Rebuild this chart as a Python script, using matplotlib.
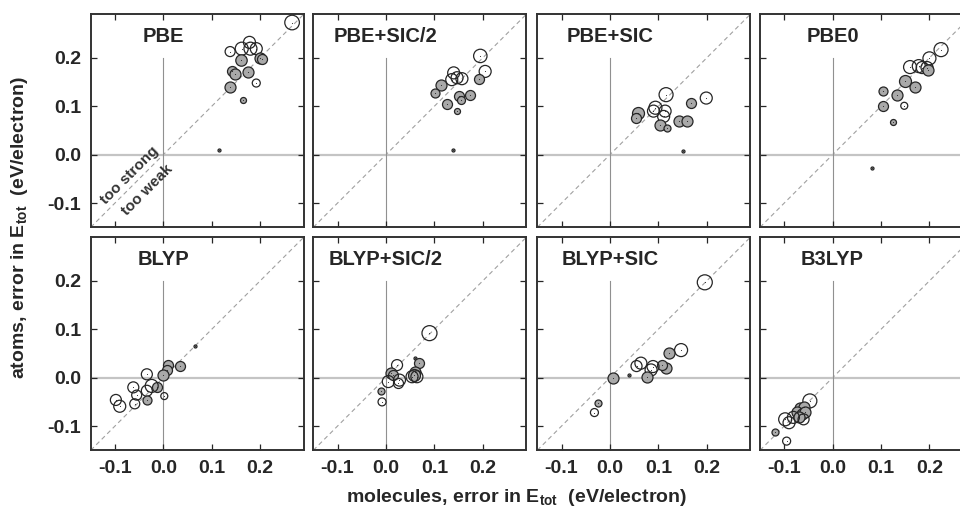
import matplotlib
matplotlib.use("Agg")
import matplotlib.pyplot as plt

plt.rcParams['font.family'] = ['Liberation Sans', 'DejaVu Sans']
plt.rcParams['font.weight'] = 'bold'
plt.rcParams['mathtext.fontset'] = 'custom'
plt.rcParams['mathtext.rm'] = 'Liberation Sans:bold'
plt.rcParams['mathtext.bf'] = 'Liberation Sans:bold'

# panel titles, row by row
titles = ['PBE', 'PBE+SIC/2', 'PBE+SIC', 'PBE0',
          'BLYP', 'BLYP+SIC/2', 'BLYP+SIC', 'B3LYP']

# error in Etot (eV/electron): x = molecules, y = atoms
# size = bubble size (arbitrary units), fill = 1 for grey bubbles, 0 for open ones
pbe_x = [0.266, 0.138, 0.162, 0.178, 0.180, 0.192, 0.160, 0.200, 0.204, 0.142, 0.148, 0.174, 0.137, 0.192, 0.164, 0.114]
pbe_y = [0.273, 0.213, 0.219, 0.232, 0.219, 0.219, 0.195, 0.200, 0.197, 0.172, 0.166, 0.171, 0.139, 0.148, 0.114, 0.010]
pbe_size = [7.3, 5, 6.5, 6, 6.5, 6, 5.7, 5.5, 5, 5, 5.5, 5.5, 5.5, 4, 3, 1.5]
pbe_fill = [0, 0, 0, 0, 0, 0, 1, 1, 1, 1, 1, 1, 1, 0, 1, 1]

pbesic2_x = [0.195, 0.205, 0.192, 0.140, 0.147, 0.157, 0.136, 0.114, 0.102, 0.152, 0.155, 0.174, 0.126, 0.147, 0.138]
pbesic2_y = [0.204, 0.172, 0.157, 0.169, 0.159, 0.157, 0.155, 0.143, 0.128, 0.122, 0.114, 0.124, 0.104, 0.090, 0.010]
pbesic2_size = [6.7, 6, 5, 6, 6, 6, 6, 5.5, 4.5, 5, 4, 5, 5, 3, 1.5]
pbesic2_fill = [0, 0, 1, 0, 0, 0, 0, 1, 1, 1, 1, 1, 1, 1, 1]

pbesic_x = [0.116, 0.199, 0.168, 0.059, 0.054, 0.094, 0.090, 0.114, 0.111, 0.103, 0.118, 0.142, 0.159, 0.151]
pbesic_y = [0.124, 0.117, 0.106, 0.086, 0.076, 0.097, 0.090, 0.090, 0.079, 0.062, 0.055, 0.070, 0.069, 0.007]
pbesic_size = [7, 6, 5, 6, 5, 6.5, 6, 6, 6, 5.5, 3.5, 5.5, 5.5, 1.5]
pbesic_fill = [0, 0, 1, 1, 1, 0, 0, 0, 0, 1, 1, 1, 1, 1]

pbe0_x = [0.224, 0.200, 0.160, 0.178, 0.185, 0.195, 0.198, 0.150, 0.171, 0.134, 0.104, 0.105, 0.148, 0.125, 0.081]
pbe0_y = [0.217, 0.199, 0.181, 0.183, 0.180, 0.180, 0.174, 0.153, 0.139, 0.123, 0.131, 0.101, 0.101, 0.068, -0.028]
pbe0_size = [7, 6.5, 6.5, 6.5, 6, 6, 5.5, 6, 5.5, 5.5, 4.5, 5, 3.5, 3, 1.5]
pbe0_fill = [0, 0, 0, 0, 0, 0, 1, 1, 1, 1, 1, 1, 0, 1, 1]

blyp_x = [0.066, 0.035, 0.010, 0.007, 0.000, -0.014, -0.034, -0.024, -0.034, -0.062, -0.055, -0.034, -0.059, -0.098, -0.090, 0.002]
blyp_y = [0.066, 0.024, 0.026, 0.015, 0.006, -0.019, 0.007, -0.017, -0.027, -0.020, -0.036, -0.046, -0.054, -0.046, -0.059, -0.038]
blyp_size = [1.5, 5, 5, 5, 5.5, 5, 5.5, 6.5, 5.5, 5.5, 5, 4.5, 5, 5.5, 6, 3.5]
blyp_fill = [1, 1, 1, 1, 1, 1, 0, 0, 0, 0, 0, 1, 0, 0, 0, 0]

blypsic2_x = [0.090, 0.060, 0.069, 0.060, 0.057, 0.064, 0.054, 0.023, 0.010, 0.014, 0.005, 0.028, 0.026, -0.011, -0.008]
blypsic2_y = [0.092, 0.040, 0.030, 0.012, 0.006, 0.002, 0.002, 0.026, 0.009, 0.006, -0.008, -0.005, -0.012, -0.028, -0.050]
blypsic2_size = [7.5, 1.5, 5, 5.5, 6, 6, 6, 5.5, 5.5, 5, 6, 6, 5, 3.5, 4]
blypsic2_fill = [0, 1, 1, 1, 1, 0, 0, 0, 1, 1, 0, 0, 0, 1, 0]

blypsic_x = [0.196, 0.147, 0.123, 0.064, 0.055, 0.116, 0.107, 0.089, 0.085, 0.076, 0.007, 0.040, -0.025, -0.032]
blypsic_y = [0.197, 0.057, 0.052, 0.030, 0.024, 0.021, 0.026, 0.023, 0.016, 0.002, 0.000, 0.005, -0.053, -0.072]
blypsic_size = [7.5, 6.5, 5.5, 6, 5.5, 5.5, 5, 6, 6, 5.5, 5.5, 1.5, 3.5, 4]
blypsic_fill = [0, 0, 1, 0, 0, 1, 1, 0, 0, 1, 1, 1, 1, 0]

b3lyp_x = [-0.047, -0.067, -0.060, -0.074, -0.064, -0.057, -0.069, -0.060, -0.081, -0.098, -0.090, -0.119, -0.095]
b3lyp_y = [-0.048, -0.063, -0.060, -0.070, -0.074, -0.070, -0.081, -0.086, -0.082, -0.086, -0.093, -0.113, -0.131]
b3lyp_size = [7, 5.5, 5.5, 5.5, 5.5, 5.5, 5.5, 5.5, 6, 6.5, 6, 3.5, 4]
b3lyp_fill = [0, 1, 1, 1, 1, 1, 1, 0, 0, 0, 0, 1, 0]

panels = [
    (pbe_x, pbe_y, pbe_size, pbe_fill),
    (pbesic2_x, pbesic2_y, pbesic2_size, pbesic2_fill),
    (pbesic_x, pbesic_y, pbesic_size, pbesic_fill),
    (pbe0_x, pbe0_y, pbe0_size, pbe0_fill),
    (blyp_x, blyp_y, blyp_size, blyp_fill),
    (blypsic2_x, blypsic2_y, blypsic2_size, blypsic2_fill),
    (blypsic_x, blypsic_y, blypsic_size, blypsic_fill),
    (b3lyp_x, b3lyp_y, b3lyp_size, b3lyp_fill),
]

ticks = [-0.1, 0.0, 0.1, 0.2]
lo, hi = -0.15, 0.29
dark = '#262626'

fig = plt.figure(figsize=(9.6, 5.09), dpi=100)
W, H = 960.0, 509.0
lefts = [90.7, 313.3, 537.3, 760.0]
tops = [14.3, 237.3]
size_px = 213.0

for i, (xs, ys, ss, fs) in enumerate(panels):
    row, col = divmod(i, 4)
    ax = fig.add_axes([lefts[col] / W, (H - tops[row] - size_px) / H,
                       size_px / W, size_px / H])
    ax.set_xlim(lo, hi)
    ax.set_ylim(lo, hi)

    ax.plot([lo, hi], [lo, hi], ls=(0, (4, 3)), c='#a0a0a0', lw=0.8, zorder=1)
    ax.axhline(0, c='#c4c4c4', lw=1.6, zorder=1)
    ax.plot([0, 0], [lo, 0.2], c='#909090', lw=0.8, zorder=1)

    for x, y, s, f in zip(xs, ys, ss, fs):
        area = (1.44 * s) ** 2
        if f:
            ax.scatter(x, y, s=area, facecolor='#a9a9a9', edgecolor=dark, lw=0.9, zorder=3)
        else:
            ax.scatter(x, y, s=area, facecolor='none', edgecolor=dark, lw=0.9, zorder=3)
    ax.scatter(xs, ys, s=0.6, c=dark, lw=0, zorder=4)

    ax.text(0.0, 0.245, titles[i], ha='center', va='center', fontsize=14.5,
            fontweight='bold', color=dark)

    ax.set_xticks(ticks)
    ax.set_yticks(ticks)
    ax.tick_params(direction='in', top=True, right=True, length=4, width=0.9,
                   colors=dark, labelsize=14, pad=7)
    ax.set_xticklabels(['%.1f' % t for t in ticks] if row == 1 else [])
    ax.set_yticklabels(['%.1f' % t for t in ticks] if col == 0 else [])
    for sp in ax.spines.values():
        sp.set_color('#333333')
        sp.set_linewidth(1.4)

    if i == 0:
        ax.text(-0.070, -0.043, 'too strong', rotation=45, ha='center', va='center',
                fontsize=11, fontweight='bold', color='#333333')
        ax.text(-0.032, -0.074, 'too weak', rotation=45, ha='center', va='center',
                fontsize=11, fontweight='bold', color='#333333')

fig.text(0.538, 0.022, r'molecules, error in $\mathbf{E_{tot}}$  (eV/electron)',
         ha='center', va='center', fontsize=14, fontweight='bold', color=dark)
fig.text(0.020, 0.554, r'atoms, error in $\mathbf{E_{tot}}$  (eV/electron)',
         ha='center', va='center', rotation=90, fontsize=14, fontweight='bold', color=dark)

fig.savefig('out.png', dpi=100)
